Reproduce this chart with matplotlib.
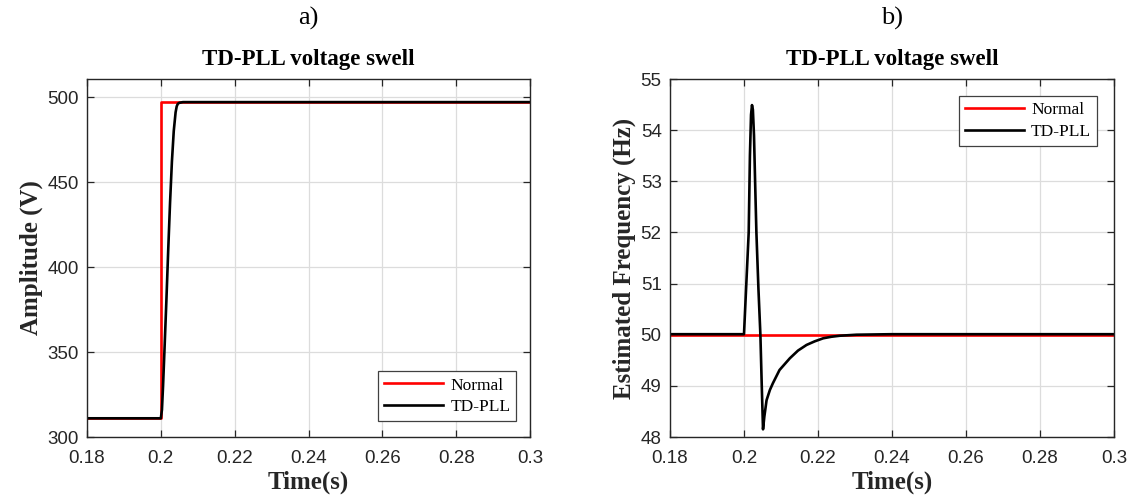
import matplotlib
matplotlib.use("Agg")
import matplotlib.pyplot as plt

# --- amplitude response (panel a) ---
t_norm_amp = [0.18, 0.2, 0.2, 0.3]
amp_normal = [311, 311, 497, 497]

t_pll_amp = [0.18, 0.2, 0.2003, 0.2006, 0.201, 0.2015, 0.202, 0.2025,
             0.203, 0.2035, 0.204, 0.2043, 0.2046, 0.205, 0.206, 0.208, 0.3]
amp_pll = [311, 311, 316, 330, 352, 380, 410, 438,
           462, 480, 491, 494.5, 496, 496.6, 497, 497, 497]

# --- frequency response (panel b) ---
t_norm_freq = [0.18, 0.3]
freq_normal = [50.0, 50.0]

t_pll_freq = [0.18, 0.2, 0.2005, 0.20127, 0.2016, 0.2019, 0.20216, 0.2024,
              0.2027, 0.2030, 0.20335, 0.2039, 0.20443, 0.2048, 0.20514,
              0.2055, 0.2061, 0.207, 0.2078, 0.2096, 0.2124, 0.2146,
              0.2169, 0.2191, 0.2214, 0.2236, 0.2259, 0.2304, 0.24, 0.3]
freq_pll = [50.01, 50.01, 50.8, 52.0, 53.5, 54.3, 54.49, 54.4,
            53.9, 53.0, 52.0, 50.9, 50.0, 49.0, 48.15,
            48.4, 48.72, 48.92, 49.05, 49.31, 49.54, 49.69,
            49.80, 49.87, 49.93, 49.96, 49.98, 50.0, 50.01, 50.01]

x_ticks = [0.18, 0.2, 0.22, 0.24, 0.26, 0.28, 0.3]
x_tick_labels = ["0.18", "0.2", "0.22", "0.24", "0.26", "0.28", "0.3"]
amp_ticks = [300, 350, 400, 450, 500]
freq_ticks = [48, 49, 50, 51, 52, 53, 54, 55]

SERIF = ["Liberation Serif", "DejaVu Serif"]
SANS = ["Liberation Sans", "DejaVu Sans"]
AXC = "#262626"

fig = plt.figure(figsize=(11.36, 4.98), dpi=100)
ax1 = fig.add_axes([87/1136, 1-437/498, (530-87)/1136, (437-79)/498])
ax2 = fig.add_axes([670/1136, 1-437/498, (1114-670)/1136, (437-79)/498])


def style(ax, yticks, ylim, ylabel, panel):
    ax.set_xlim(0.18, 0.3)
    ax.set_ylim(*ylim)
    ax.set_xticks(x_ticks)
    ax.set_xticklabels(x_tick_labels)
    ax.set_yticks(yticks)
    ax.set_yticklabels([str(v) for v in yticks])
    ax.grid(True, color="#dcdcdc", linewidth=0.9)
    ax.set_axisbelow(True)
    ax.tick_params(direction="in", length=5, width=0.9, colors=AXC,
                   top=True, right=True, labelsize=13.5)
    ax.tick_params(axis="x", pad=9)
    ax.tick_params(axis="y", pad=6)
    for lab in ax.get_xticklabels() + ax.get_yticklabels():
        lab.set_fontfamily(SANS)
    for sp in ax.spines.values():
        sp.set_color(AXC)
        sp.set_linewidth(1.0)
    ax.set_xlabel("Time(s)", fontfamily=SERIF, fontweight="bold",
                  fontsize=18, color=AXC, labelpad=3)
    ax.set_ylabel(ylabel, fontfamily=SERIF, fontweight="bold",
                  fontsize=18, color=AXC, labelpad=3)
    ax.set_title("TD-PLL voltage swell", fontfamily=SERIF, fontweight="bold",
                 fontsize=16.5, pad=10)
    ax.text(0.5, 1.0 + 61/358, panel, transform=ax.transAxes, ha="center",
            va="center", fontfamily=SERIF, fontsize=19)


def add_legend(ax, loc, anchor):
    leg = ax.legend(loc=loc, bbox_to_anchor=anchor, borderaxespad=0,
                    prop={"family": SERIF, "size": 12.5}, fancybox=False,
                    framealpha=1, edgecolor="#404040", handlelength=3.4,
                    borderpad=0.35, labelspacing=0.3, handletextpad=0.4)
    leg.get_frame().set_linewidth(0.9)


ax1.plot(t_norm_amp, amp_normal, color="#ff0000", lw=1.9, label="Normal")
ax1.plot(t_pll_amp, amp_pll, color="black", lw=1.9, label="TD-PLL")
style(ax1, amp_ticks, (300, 510.6), "Amplitude (V)", "a)")
add_legend(ax1, "lower right", (0.9695, 0.0447))

ax2.plot(t_norm_freq, freq_normal, color="#ff0000", lw=1.9, label="Normal")
ax2.plot(t_pll_freq, freq_pll, color="black", lw=1.9, label="TD-PLL")
style(ax2, freq_ticks, (48, 55), "Estimated Frequency (Hz)", "b)")
add_legend(ax2, "upper right", (0.962, 0.9525))

fig.savefig("out.png", dpi=100)
